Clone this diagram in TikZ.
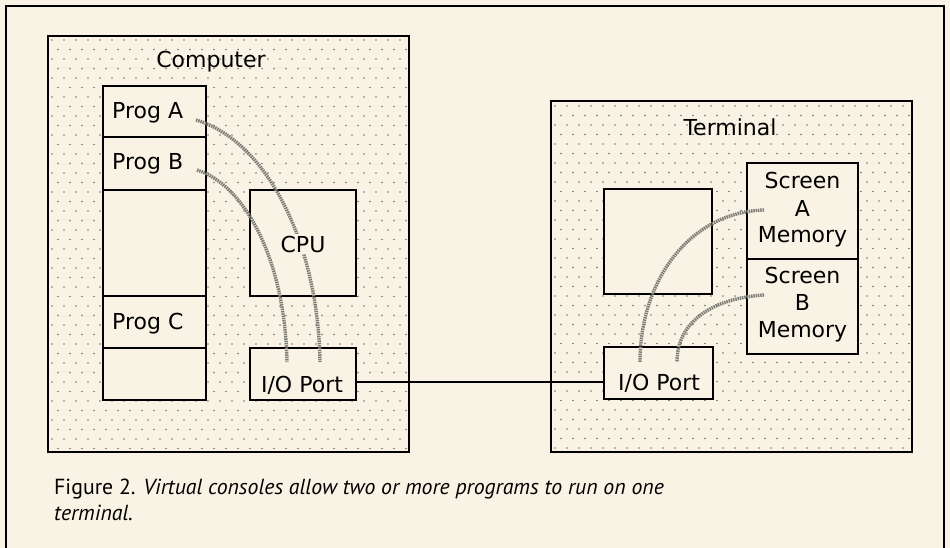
\documentclass[tikz,border=0pt]{standalone}
\usepackage{fontspec}
\setmainfont{DejaVu Sans}
\newfontfamily\capfont{PT Sans}
\definecolor{paper}{RGB}{248,243,228}
\definecolor{dotc}{RGB}{120,118,110}
\definecolor{wirec}{RGB}{125,125,120}
\begin{document}
\begin{tikzpicture}[x=1pt,y=-1pt,
  box/.style={draw, line width=1.7pt, fill=paper, inner sep=0pt, outer sep=0pt},
  lbl/.style={font=\fontsize{22}{27}\selectfont, inner sep=0pt, anchor=base},
  lblw/.style={lbl, anchor=base west},
  captext/.style={font=\capfont\fontsize{21.8}{26}\selectfont, inner sep=0pt, anchor=base west},
  wire/.style={draw=wirec, line width=3.4pt, dash pattern=on 1.5pt off 0.8pt},
  dotfill/.style={fill=dotc}]
\useasboundingbox (0,0) rectangle (950,548);
\fill[paper] (0,0) rectangle (950,548);
\draw[line width=2.8pt] (6,548) -- (6,6) -- (944,6) -- (944,548);
% outer boxes
\node[box, minimum width=361pt, minimum height=416pt] (comp) at (228.5,244) {};
\node[box, minimum width=361pt, minimum height=351pt] (term) at (731.5,276.5) {};
% dots
\begin{scope}
\clip (50,38) rectangle (407,450);
\foreach \r in {0,...,43} { \foreach \c in {0,...,30} {
  \fill[dotfill] ({52+\c*12+mod(\r,2)*6},{40+\r*9.5}) circle[radius=0.9pt]; } }
\end{scope}
\begin{scope}
\clip (553,103) rectangle (910,450);
\foreach \r in {0,...,36} { \foreach \c in {0,...,30} {
  \fill[dotfill] ({555+\c*12+mod(\r,2)*6},{106+\r*9.5}) circle[radius=0.9pt]; } }
\end{scope}
% computer inner boxes
\node[box, minimum width=103pt, minimum height=51pt] (progA) at (154.5,111.5) {};
\node[box, minimum width=103pt, minimum height=53pt] (progB) at (154.5,163.5) {};
\node[box, minimum width=103pt, minimum height=106pt] (progE1) at (154.5,243) {};
\node[box, minimum width=103pt, minimum height=52pt] (progC) at (154.5,322) {};
\node[box, minimum width=103pt, minimum height=52pt] (progE2) at (154.5,374) {};
\node[box, minimum width=106pt, minimum height=106pt] (cpu) at (303,243) {};
\node[box, minimum width=106pt, minimum height=52pt] (compIO) at (303,374) {};
% terminal inner boxes
\node[box, minimum width=108pt, minimum height=105pt] (screen) at (658,241.5) {};
\node[box, minimum width=109pt, minimum height=52pt] (termIO) at (658.5,373) {};
\node[box, minimum width=111pt, minimum height=96pt] (scrA) at (802.5,211) {};
\node[box, minimum width=111pt, minimum height=95pt] (scrB) at (802.5,306.5) {};
% link
\draw[line width=1.4pt] ([yshift=-8pt]compIO.east) -- ([yshift=-9pt]termIO.west);
% wires
\coordinate (wA0) at (196,120); \coordinate (wA1) at (320,362);
\coordinate (wB0) at (197,170); \coordinate (wB1) at (287,362);
\coordinate (wS0) at (764,210); \coordinate (wS1) at (640,362);
\coordinate (wT0) at (764,295); \coordinate (wT1) at (677,362);
\draw[wire] (wA0) .. controls (265,140) and (318,240) .. (wA1);
\draw[wire] (wB0) .. controls (245,185) and (285,260) .. (wB1);
\draw[wire] (wS0) .. controls (690,212) and (640,280) .. (wS1);
\draw[wire] (wT0) .. controls (715,298) and (677,320) .. (wT1);
% labels
\node[lbl] (lcomp) at (211,68) {Computer};
\node[lbl] (lterm) at (730,136) {Terminal};
\node[lblw] (lA) at (112,119) {Prog A};
\node[lblw] (lB) at (112,170) {Prog B};
\node[lblw] (lC) at (112,329) {Prog C};
\node[lbl, fill=paper, inner sep=1.5pt] (lcpu) at (303,252) {CPU};
\node[lbl] (lio1) at (302,392) {I/O Port};
\node[lbl] (lio2) at (659,390) {I/O Port};
\node[lbl] (la1) at (802.5,189) {Screen};
\node[lbl] (la2) at (802.5,217) {A};
\node[lbl] (la3) at (802.5,242) {Memory};
\node[lbl] (lb1) at (802.5,283) {Screen};
\node[lbl] (lb2) at (802.5,310) {B};
\node[lbl] (lb3) at (802.5,337) {Memory};
% caption
\node[captext] (cap1) at (54,494) {Figure 2. \textit{Virtual consoles allow two or more programs to run on one}};
\node[captext] (cap2) at (54,520) {\textit{terminal.}};
\end{tikzpicture}
\end{document}
